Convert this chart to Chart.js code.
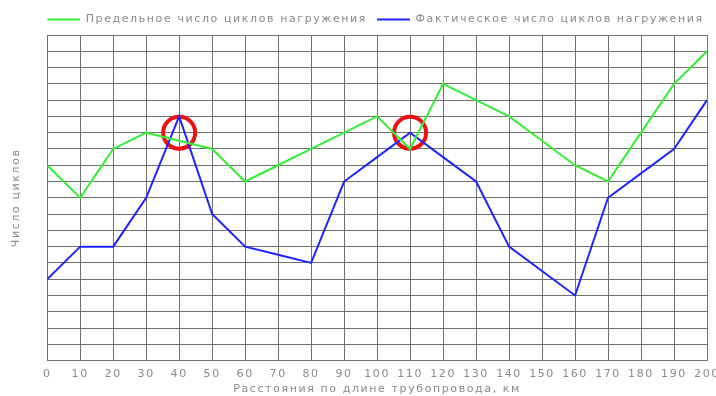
<!DOCTYPE html>
<html>
<head>
<meta charset="utf-8">
<script src="https://cdn.jsdelivr.net/npm/chart.js@4.4.1/dist/chart.umd.min.js"></script>
<style>
  html, body { margin: 0; padding: 0; background: #fff; overflow: hidden; }
  #wrap { width: 727px; height: 396px; }
</style>
</head>
<body>
<div id="wrap"><canvas id="grafico"></canvas></div>
<script>
// Расстояние по длине трубопровода, км
const distancias = [0, 10, 20, 30, 40, 50, 60, 70, 80, 90, 100, 110, 120, 130, 140, 150, 160, 170, 180, 190, 200];
// Предельное число циклов нагружения (в делениях сетки)
const limite = [12, 10, 13, 14, 13.5, 13, 11, 12, 13, 14, 15, 13, 17, 16, 15, 13.5, 12, 11, 14, 17, 19];
// Фактическое число циклов нагружения
const factico = [5, 7, 7, 10, 15, 9, 7, 6.5, 6, 11, 12.5, 14, 12.5, 11, 7, 5.5, 4, 10, 11.5, 13, 16];
// Отмеченные точки
const marcasX = [40, 110];
const marcasY = [14, 14];

const colorTexto = '#8a8a8a';
const fuente = { family: 'DejaVu Sans', size: 11 };

function puntos(xs, ys) {
    return xs.map((x, i) => ({ x: x, y: ys[i] }));
}

// интервал между буквами как в исходном рисунке + сдвиг легенды к сетке
const espaciado = {
    id: 'espaciado',
    beforeLayout(chart) { chart.ctx.letterSpacing = '1.6px'; },
    afterLayout(chart) { chart.legend.left = chart.chartArea.left - 10; },
    beforeDraw(chart) { chart.ctx.letterSpacing = '1.6px'; }
};

new Chart(document.getElementById('grafico'), {
    type: 'line',
    data: {
        datasets: [
            {
                label: 'Предельное число циклов нагружения',
                data: puntos(distancias, limite),
                borderColor: '#33ee33',
                backgroundColor: '#33ee33',
                borderWidth: 2,
                pointRadius: 0,
                tension: 0
            },
            {
                label: 'Фактическое число циклов нагружения',
                data: puntos(distancias, factico),
                borderColor: '#2222ff',
                backgroundColor: '#2222ff',
                borderWidth: 2,
                pointRadius: 0,
                tension: 0
            },
            {
                label: 'marks',
                data: puntos(marcasX, marcasY),
                showLine: false,
                pointRadius: 16,
                pointBorderWidth: 4,
                pointBorderColor: '#ee1111',
                pointBackgroundColor: 'rgba(0,0,0,0)'
            }
        ]
    },
    options: {
        responsive: true,
        maintainAspectRatio: false,
        animation: false,
        layout: { padding: { left: 10, right: 0, top: 4, bottom: 0 } },
        plugins: {
            tooltip: { enabled: false },
            legend: {
                position: 'top',
                align: 'start',
                labels: {
                    color: colorTexto,
                    font: fuente,
                    boxWidth: 33,
                    boxHeight: 2,
                    padding: 10,
                    generateLabels(chart) {
                        return Chart.defaults.plugins.legend.labels.generateLabels(chart)
                            .filter(it => it.datasetIndex < 2)
                            .map(it => ({ ...it, lineWidth: 0 }));
                    }
                }
            }
        },
        scales: {
            x: {
                type: 'linear',
                min: 0,
                max: 200,
                ticks: { stepSize: 10, color: colorTexto, font: fuente, padding: 7, maxRotation: 0, autoSkip: false },
                grid: { color: '#707070', lineWidth: 1, drawTicks: false },
                border: { color: '#707070' },
                title: { display: true, text: 'Расстояния по длине трубопровода, км', color: colorTexto, font: fuente, padding: { top: -5, bottom: 0 } }
            },
            y: {
                min: 0,
                max: 20,
                ticks: { stepSize: 1, display: false },
                grid: { color: '#707070', lineWidth: 1, drawTicks: false },
                border: { color: '#707070' },
                title: { display: true, text: 'Число циклов', color: colorTexto, font: fuente, padding: { top: 0, bottom: 24 } }
            }
        }
    },
    plugins: [espaciado]
});
</script>
</body>
</html>
